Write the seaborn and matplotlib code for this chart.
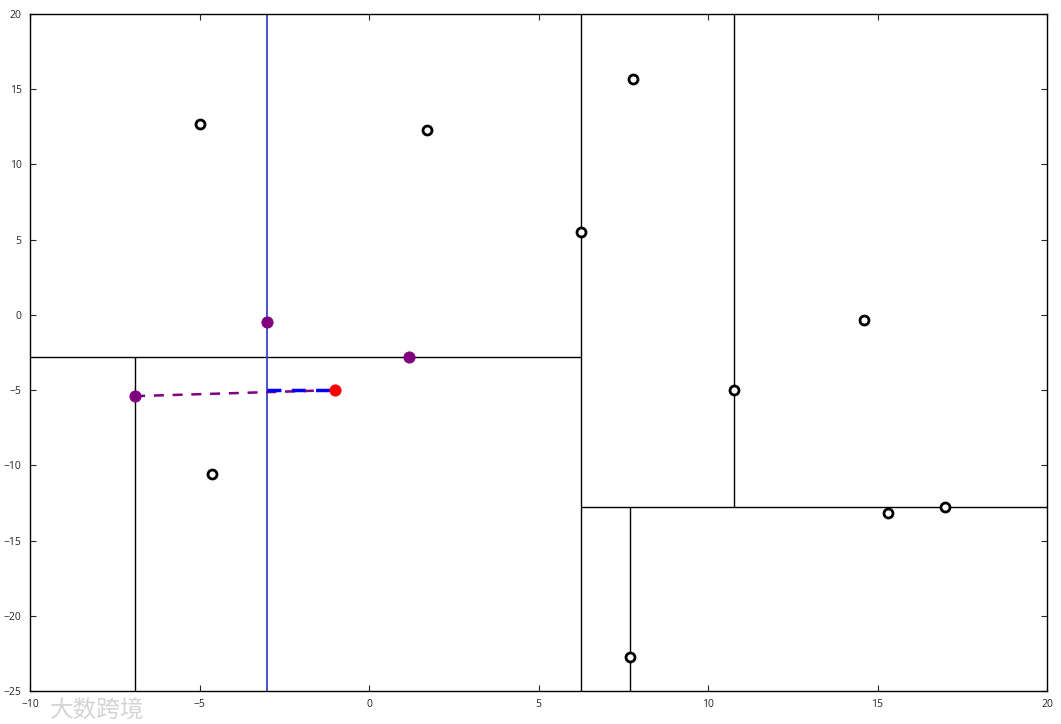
import matplotlib
matplotlib.use("Agg")
import matplotlib.pyplot as plt
import seaborn as sns
import pandas as pd

# tree points (hollow)
pts_x = [-5.0, 1.7, 7.8, 6.25, 14.6, 10.77, -4.63, 15.3, 17.0, 7.7]
pts_y = [12.7, 12.3, 15.7, 5.5, -0.35, -5.0, -10.6, -13.2, -12.8, -22.75]

# visited nodes (purple) and query point (red)
visited_x = [-3.0, 1.18, -6.9]
visited_y = [-0.5, -2.8, -5.4]
query = (-1.0, -5.0)

# split lines: (value, lo, hi)
vsplits = [(6.25, -25, 20), (-6.9, -25, -2.8), (10.77, -12.8, 20), (7.7, -25, -12.8)]
hsplits = [(-2.8, -10, 6.25), (-12.8, 6.25, 20)]
blue_split = -3.0

xticks = [-10, -5, 0, 5, 10, 15, 20]
yticks = [-25, -20, -15, -10, -5, 0, 5, 10, 15, 20]

sns.set_style("white")
plt.rcParams['font.family'] = ['Open Sans', 'DejaVu Sans']

fig = plt.figure(figsize=(10.61, 7.24), dpi=100)
ax = fig.add_axes([0.0283, 0.0456, 0.9585, 0.9351])

for x, lo, hi in vsplits:
    ax.vlines(x, lo, hi, color="black", lw=1.0, zorder=1)
for y, lo, hi in hsplits:
    ax.hlines(y, lo, hi, color="black", lw=1.0, zorder=1)
ax.axvline(blue_split, color="#3a45c8", lw=1.3, zorder=1)

# nearest-neighbour distance lines
ax.plot([visited_x[2], query[0]], [visited_y[2], query[1]], ls="--",
        color="purple", lw=1.8, dashes=(4, 3.5), zorder=2)
ax.plot([blue_split, query[0]], [query[1], query[1]], ls="--",
        color="blue", lw=2.5, dashes=(4, 3), zorder=3)

df = pd.DataFrame({"x": pts_x, "y": pts_y})
sns.scatterplot(data=df, x="x", y="y", ax=ax, s=42, facecolor="white",
                edgecolor="black", linewidth=2, zorder=4)
sns.scatterplot(x=visited_x, y=visited_y, ax=ax, s=65, color="purple",
                edgecolor="purple", zorder=4)
sns.scatterplot(x=[query[0]], y=[query[1]], ax=ax, s=65, color="red",
                edgecolor="red", zorder=5)

ax.set_xlim(-10, 20)
ax.set_ylim(-25, 20)
ax.set_xticks(xticks)
ax.set_yticks(yticks)
ax.set_xlabel("")
ax.set_ylabel("")
ax.tick_params(direction="in", length=4, width=0.8, labelsize=7.5,
               top=True, right=True, bottom=True, left=True, pad=6)
for s in ax.spines.values():
    s.set_color("black")
    s.set_linewidth(1)

fig.text(0.047, 0.01, "大数跨境", family=["Noto Sans CJK SC", "DejaVu Sans"],
         fontsize=17, color="#d4d4d4")

fig.savefig("out.png", dpi=100)
